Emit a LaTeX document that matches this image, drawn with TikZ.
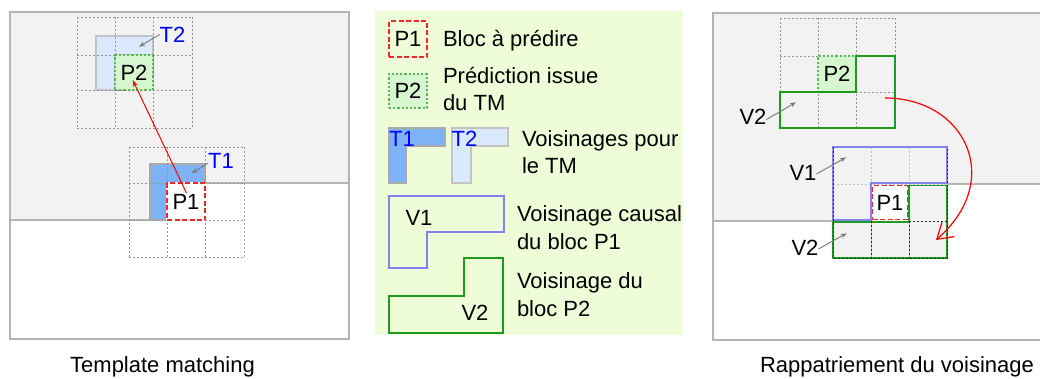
\documentclass[tikz,border=0pt]{standalone}
\usepackage{fontspec}
\setmainfont{Liberation Sans}
\usetikzlibrary{arrows.meta,calc}
\definecolor{framegray}{RGB}{180,180,180}
\definecolor{bggray}{RGB}{242,242,242}
\definecolor{gridgray}{RGB}{150,150,150}
\definecolor{lightgridgray}{RGB}{190,190,190}
\definecolor{darkgridgray}{RGB}{40,40,40}
\definecolor{tonefill}{RGB}{126,178,246}
\definecolor{ttwofill}{RGB}{218,232,252}
\definecolor{tborder}{RGB}{170,170,170}
\definecolor{tborderb}{RGB}{195,195,195}
\definecolor{ptwofill}{RGB}{214,246,208}
\definecolor{ptwoline}{RGB}{90,180,90}
\definecolor{ponered}{RGB}{238,40,40}
\definecolor{vonecol}{RGB}{130,130,240}
\definecolor{vtwocol}{RGB}{30,155,30}
\definecolor{legbg}{RGB}{238,252,216}
\definecolor{lblblue}{RGB}{0,0,255}
\definecolor{pointergray}{RGB}{120,120,120}
\definecolor{arrowred}{RGB}{255,0,0}
\begin{document}
\begin{tikzpicture}[x=1pt,y=-1pt,
  every node/.style={font=\fontsize{22}{26}\selectfont, inner sep=0pt, outer sep=0pt},
  panelframe/.style={draw=framegray, line width=1.5pt},
  boundary/.style={draw=framegray, line width=1.5pt},
  gridline/.style={draw=gridgray, line width=0.9pt, dash pattern=on 2pt off 2pt},
  lightgrid/.style={draw=lightgridgray, line width=0.9pt, dash pattern=on 2pt off 2pt},
  darkgrid/.style={draw=darkgridgray, line width=1pt, dash pattern=on 2pt off 2pt},
  tonestyle/.style={fill=tonefill, draw=tborder, line width=1.2pt},
  ttwostyle/.style={fill=ttwofill, draw=tborderb, line width=1.2pt},
  ponebox/.style={draw=ponered, line width=1.8pt, dash pattern=on 5pt off 2.5pt, fill=white, minimum width=38pt, minimum height=37pt},
  ptwobox/.style={draw=ptwoline, line width=2.4pt, dash pattern=on 2.2pt off 2pt, fill=ptwofill, minimum width=38pt, minimum height=36pt},
  underlay/.style={draw=white, line width=1.8pt},
  vone/.style={draw=vonecol, line width=1.5pt},
  vtwo/.style={draw=vtwocol, line width=1.8pt},
  pointer/.style={draw=pointergray, line width=0.9pt, -{Stealth[length=6pt,width=4.5pt]}},
  lbl/.style={text=lblblue},
  legtext/.style={anchor=base west},
  caption/.style={anchor=base},
]
\useasboundingbox (0,0) rectangle (1040,378);

% ---------------- Left panel: Template matching ----------------
\fill[white] (10,12) rectangle (349,339);
\fill[bggray] (10,12) -- (349,12) -- (349,183) -- (167,183) -- (167,220) -- (10,220) -- cycle;
\draw[boundary] (10,220) -- (167,220) -- (167,183) -- (349,183);
\draw[panelframe] (10,12) rectangle (349,339);

\draw[ttwostyle] (96,36) -- (153,36) -- (153,55) -- (115,55) -- (115,90) -- (96,90) -- cycle;
\draw[tonestyle] (150,164) -- (205,164) -- (205,183) -- (167,183) -- (167,220) -- (150,220) -- cycle;

\foreach \x in {77,115,153,192} \draw[gridline] (\x,17) -- (\x,128);
\foreach \y in {17,55,90,128} \draw[gridline] (77,\y) -- (192,\y);
\foreach \x in {129,167,205,244} \draw[gridline] (\x,147) -- (\x,257);
\foreach \y in {147,183,220,257} \draw[gridline] (129,\y) -- (244,\y);

\node[ptwobox, minimum height=35pt] (lptwo) at (134,72.5) {P2};
\draw[underlay] (167,183) rectangle (205,220);
\node[ponebox] (lpone) at (186,201.5) {P1};

\node[lbl] (ltwolbl) at (172.5,34.5) {T2};
\node[lbl] (lonelbl) at (221,160.5) {T1};
\coordinate (ltwotip) at (139,46.7);
\coordinate (lonetip) at (191.7,173.3);
\draw[pointer] (ltwolbl.west) -- (ltwotip);
\draw[pointer] ([yshift=-2.5pt]lonelbl.west) -- (lonetip);

\coordinate (lstart) at (186.5,193);
\coordinate (lend) at (132.7,80);
\draw[arrowred, line width=1pt, -{Stealth[length=7pt,width=5pt]}] (lstart) -- (lend);

\node[caption] (capleft) at (162.5,372.5) {Template matching};

% ---------------- Legend ----------------
\fill[legbg] (375,11) rectangle (683,335);
\node[ponebox, fill=none, minimum height=36pt] (gpone) at (408,39) {P1};
\node[legtext] (gponetxt) at (443,46.7) {Bloc à prédire};
\node[ptwobox, minimum height=34pt] (gptwo) at (408,91) {P2};
\node[legtext] (gptwotxta) at (443,83.5) {Prédiction issue};
\node[legtext] (gptwotxtb) at (443,110) {du TM};

\draw[tonestyle] (389,128) -- (445,128) -- (445,146) -- (406,146) -- (406,183) -- (389,183) -- cycle;
\draw[ttwostyle] (452,128) -- (508,128) -- (508,146) -- (471,146) -- (471,183) -- (452,183) -- cycle;
\node[lbl] (gtone) at (402,138.7) {T1};
\node[lbl] (gttwo) at (464.5,138.7) {T2};
\node[legtext] (gttxta) at (522,146.7) {Voisinages pour};
\node[legtext] (gttxtb) at (522,173) {le TM};

\draw[vone] (389,196) -- (504,196) -- (504,232) -- (427,232) -- (427,268) -- (389,268) -- cycle;
\node (gvone) at (419,218) {V1};
\node[legtext] (gvonetxta) at (517,221.7) {Voisinage causal};
\node[legtext] (gvonetxtb) at (517,249) {du bloc P1};

\draw[vtwo] (389,296) -- (464,296) -- (464,258) -- (503,258) -- (503,333) -- (389,333) -- cycle;
\node (gvtwo) at (475,313) {V2};
\node[legtext] (gvtwotxta) at (517,288.3) {Voisinage du};
\node[legtext] (gvtwotxtb) at (517,316) {bloc P2};

% ---------------- Right panel: Rappatriement ----------------
\fill[white] (713,13) rectangle (1041,340);
\fill[bggray] (713,13) -- (1041,13) -- (1041,184) -- (871,184) -- (871,221) -- (713,221) -- cycle;
\fill[bggray] (909,184) -- (947,184) -- (947,258) -- (833,258) -- (833,221) -- (909,221) -- cycle;
\draw[boundary] (713,221) -- (833,221);
\draw[boundary] (947,184) -- (1041,184);
\draw[panelframe] (713,13) rectangle (1041,340);

% upper grid
\foreach \x in {780,818,856,895} \draw[gridline] (\x,18) -- (\x,128);
\foreach \y in {18,56,92,128} \draw[gridline] (780,\y) -- (895,\y);
\node[ptwobox] (rptwo) at (837,74) {P2};
\draw[vtwo] (780,92) -- (856,92) -- (856,56) -- (895,56) -- (895,128) -- (780,128) -- cycle;

% lower grid
\foreach \x in {833,871,909,947} \draw[lightgrid] (\x,147) -- (\x,258);
\foreach \y in {147,184,221,258} \draw[lightgrid] (833,\y) -- (947,\y);
\draw[vone] (833,147) -- (947,147) -- (947,183) -- (871,183) -- (871,220) -- (833,220) -- cycle;
\draw[vtwo] (909,185.5) -- (947,185.5) -- (947,258) -- (833,258) -- (833,222) -- (909,222) -- cycle;
\draw[darkgrid] (833,147) -- (833,258) -- (947,258) -- (947,147);
\draw[darkgrid] (871,221) -- (871,258);
\draw[darkgrid] (909,221) -- (909,258);
\draw[darkgrid] (909,221) -- (947,221);
\draw[underlay] (872.5,185.5) rectangle (907.5,219.5);
\node[ponebox, minimum width=35pt, minimum height=34pt] (rpone) at (890,202.5) {P1};

\node (rvtwoa) at (753,116.5) {V2};
\node (rvone) at (803,173) {V1};
\node (rvtwob) at (805,248) {V2};
\coordinate (rvtwoatip) at (796,102.3);
\coordinate (rvonetip) at (846,157.3);
\coordinate (rvtwobtip) at (846.7,233.3);
\draw[pointer] ([yshift=-3pt]rvtwoa.east) -- (rvtwoatip);
\draw[pointer] ([yshift=-1pt]rvone.east) -- (rvonetip);
\draw[pointer] ([yshift=-1pt]rvtwob.east) -- (rvtwobtip);

\coordinate (cstart) at (885,98);
\coordinate (cend) at (936,240);
\draw[arrowred, line width=1.2pt, -{Straight Barb[length=15pt,width=19pt]}] (cstart) .. controls (965,98) and (1005,180) .. (cend);

\node[caption] (capright) at (897,372.5) {Rappatriement du voisinage};
\end{tikzpicture}
\end{document}
